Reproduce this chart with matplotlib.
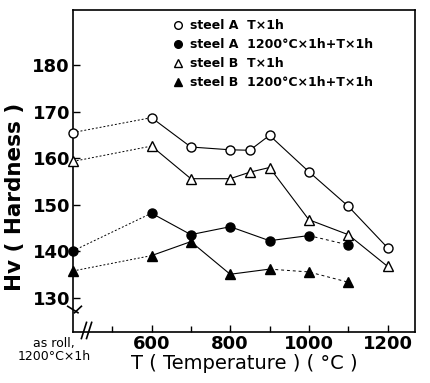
import numpy as np
import matplotlib.pyplot as plt

# temperatures; 400 stands for the "as roll, 1200°C×1h" state
temp = [400, 600, 700, 800, 850, 900, 1000, 1100, 1200]
a_t1h = [165.5, 168.7, 162.4, 161.8, 161.7, 164.9, 157.1, 149.7, 140.8]
b_t1h = [159.3, 162.6, 155.6, 155.6, 157.0, 158.0, 146.8, 143.6, 136.8]

temp2 = [400, 600, 700, 800, 900, 1000, 1100]
a_1200 = [140.1, 148.2, 143.6, 145.3, 142.3, 143.4, 141.4]
b_1200 = [135.8, 139.1, 142.1, 135.1, 136.2, 135.6, 133.4]

labels = ['steel A  T\u00d71h', 'steel A  1200\u00b0C\u00d71h+T\u00d71h',
          'steel B  T\u00d71h', 'steel B  1200\u00b0C\u00d71h+T\u00d71h']

plt.rcParams['font.family'] = ['DejaVu Sans']

fig = plt.figure(figsize=(4.31, 3.83), dpi=100)
ax = fig.add_axes([0.169, 0.133, 0.794, 0.841])

lw = 0.8
ms = 6.5
k = 'black'


def draw(x, y, marker, fill, dash_from=None):
    mfc = k if fill else 'white'
    # as-roll -> 600 dotted
    ax.plot(x[:2], y[:2], ls=(0, (2, 2)), color=k, lw=0.7)
    end = dash_from if dash_from is not None else len(x) - 1
    ax.plot(x[1:end + 1], y[1:end + 1], '-', color=k, lw=lw)
    if dash_from is not None:
        ax.plot(x[end:], y[end:], ls=(0, (3, 3)), color=k, lw=0.7)
    ax.plot(x, y, ls='none', marker=marker, ms=ms, mfc=mfc, mec=k, mew=1.0,
            zorder=5, clip_on=False)


draw(temp, a_t1h, 'o', False)
draw(temp, b_t1h, '^', False)
draw(temp2, a_1200, 'o', True, dash_from=5)
draw(temp2, b_1200, '^', True, dash_from=4)

ax.set_xlim(400, 1270)
ax.set_ylim(122.7, 191.8)
ax.set_xticks([600, 800, 1000, 1200])
ax.set_xticks([500, 700, 900, 1100], minor=True)
ax.set_yticks([130, 140, 150, 160, 170, 180])
ax.tick_params(direction='in', length=5, width=1, labelsize=13, pad=2)
ax.tick_params(which='minor', direction='in', length=4, width=1)
for t in ax.get_xticklabels() + ax.get_yticklabels():
    t.set_fontweight('bold')
for s in ax.spines.values():
    s.set_linewidth(1.2)

# axis break marks
ax.plot([0.005, 0.025], [0.06, 0.08], transform=ax.transAxes, color=k, lw=1.2, clip_on=False)
ax.plot([-0.015, 0.015], [0.08, 0.06], transform=ax.transAxes, color=k, lw=1.2, clip_on=False)
ax.plot([0.025, 0.04], [-0.02, 0.03], transform=ax.transAxes, color=k, lw=1.2, clip_on=False)
ax.plot([0.04, 0.055], [-0.02, 0.03], transform=ax.transAxes, color=k, lw=1.2, clip_on=False)

ax.set_ylabel('Hv ( Hardness )', fontsize=15.5, fontweight='bold')
ax.yaxis.set_label_coords(-0.14, 0.42)
ax.set_xlabel('T ( Temperature ) ( \u00b0C )', fontsize=14, labelpad=1)
fig.text(0.125, 0.085, 'as roll,\n1200\u00b0C\u00d71h', fontsize=9, ha='center', va='center',
         linespacing=1.0)

# legend
mk = [('o', 'white'), ('o', k), ('^', 'white'), ('^', k)]
for i, (lab, (m, fc)) in enumerate(zip(labels, mk)):
    yy = 0.953 - i * 0.059
    ax.plot([0.307], [yy], transform=ax.transAxes, marker=m, ms=5.5, mfc=fc, mec=k, ls='none')
    ax.text(0.342, yy, lab, transform=ax.transAxes, fontsize=9, fontweight='bold', va='center')

fig.savefig('out.png', dpi=100)
